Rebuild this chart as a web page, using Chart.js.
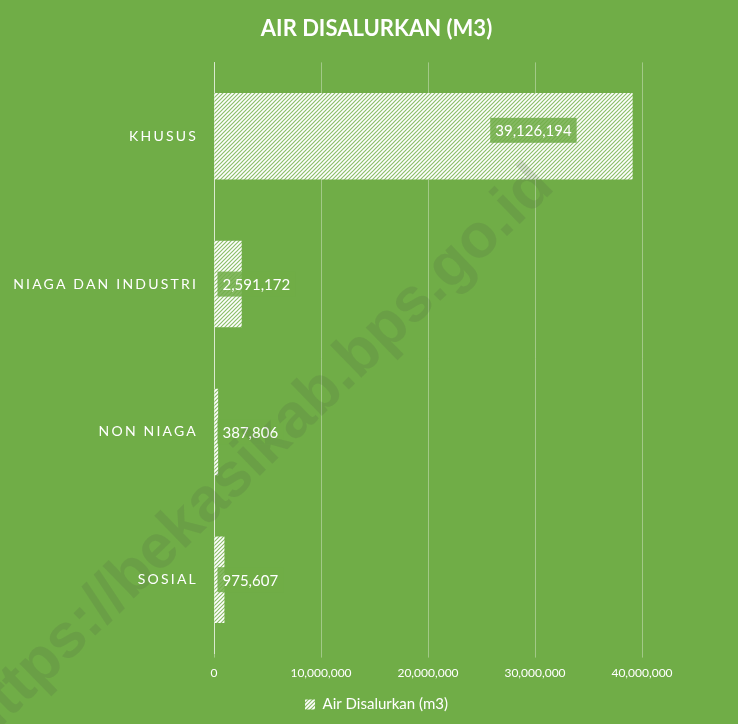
<!DOCTYPE html>
<html>
<head>
<meta charset="utf-8">
<script src="https://cdn.jsdelivr.net/npm/chart.js@4.4.1/dist/chart.umd.min.js"></script>
<style>
  html, body { margin: 0; padding: 0; background: #70AD47; }
  #wrap { width: 738px; height: 724px; position: relative; }
</style>
</head>
<body>
<div id="wrap"><canvas id="c" width="738" height="724"></canvas></div>
<script>
const chartTitle = 'AIR DISALURKAN (M3)';
const categories = ['KHUSUS', 'NIAGA DAN INDUSTRI', 'NON NIAGA', 'SOSIAL'];
const seriesName = 'Air Disalurkan (m3)';
const airDisalurkan = [39126194, 2591172, 387806, 975607];
const xTicks = [0, 10000000, 20000000, 30000000, 40000000];
const watermark = 'https://bekasikab.bps.go.id';

const FONT = 'Lato, "Open Sans", sans-serif';

function makePattern() {
  const p = document.createElement('canvas');
  p.width = 4; p.height = 4;
  const g = p.getContext('2d');
  g.fillStyle = '#ffffff';
  g.fillRect(0, 0, 4, 4);
  g.strokeStyle = '#8cbf6a';
  g.lineWidth = 1.2;
  g.beginPath();
  g.moveTo(-1, 5); g.lineTo(5, -1);
  g.moveTo(-1, 1); g.lineTo(1, -1);
  g.moveTo(3, 5); g.lineTo(5, 3);
  g.stroke();
  return document.getElementById('c').getContext('2d').createPattern(p, 'repeat');
}
const hatch = makePattern();

const fmt = v => v.toLocaleString('en-US');

const watermarkPlugin = {
  id: 'watermark',
  afterDraw(chart) {
    const ctx = chart.ctx;
    ctx.save();
    ctx.translate(-8, 712);
    ctx.rotate(-Math.PI / 4 + 0.015);
    ctx.font = 'bold 62px "Liberation Sans", Arial, sans-serif';
    ctx.fillStyle = 'rgba(70,70,70,0.13)';
    ctx.textBaseline = 'middle';
    ctx.textAlign = 'left';
    ctx.fillText(watermark, -30, 0);
    ctx.restore();
  }
};

const catLabelPlugin = {
  id: 'catLabels',
  afterDraw(chart) {
    const ctx = chart.ctx;
    const ys = chart.scales.y;
    ctx.save();
    ctx.font = '14px ' + FONT;
    ctx.fillStyle = '#ffffff';
    ctx.textAlign = 'right';
    ctx.textBaseline = 'middle';
    try { ctx.letterSpacing = '2.2px'; } catch (e) {}
    categories.forEach((c, i) => {
      ctx.fillText(c, chart.chartArea.left - 16, ys.getPixelForValue(i));
    });
    ctx.restore();
  }
};

const dataLabelPlugin = {
  id: 'dataLabels',
  afterDatasetsDraw(chart) {
    const ctx = chart.ctx;
    const meta = chart.getDatasetMeta(0);
    ctx.save();
    ctx.font = '15px ' + FONT;
    ctx.textBaseline = 'middle';
    ctx.textAlign = 'left';
    meta.data.forEach((bar, i) => {
      const txt = fmt(airDisalurkan[i]);
      const w = ctx.measureText(txt).width;
      const boxW = w + 10, boxH = 25;
      const base = bar.base;
      let left = bar.x - 56 - boxW;
      let cy = bar.y - 6;
      if (left < base + 3) { left = base + 3; cy = bar.y; }
      ctx.fillStyle = 'rgba(112,173,71,0.85)';
      ctx.fillRect(left, cy - boxH / 2, boxW, boxH);
      ctx.fillStyle = '#ffffff';
      ctx.fillText(txt, left + 5, cy + 1);
    });
    ctx.restore();
  }
};

new Chart(document.getElementById('c'), {
  type: 'bar',
  data: {
    labels: categories,
    datasets: [{
      label: seriesName,
      data: airDisalurkan,
      backgroundColor: hatch,
      borderWidth: 0,
      categoryPercentage: 0.585,
      barPercentage: 1.0
    }]
  },
  options: {
    indexAxis: 'y',
    responsive: false,
    animation: false,
    devicePixelRatio: 1,
    layout: { padding: { left: 15, right: 0, top: 10, bottom: 2 } },
    scales: {
      x: {
        min: 0, max: 40000000,
        afterBuildTicks(scale) { scale.ticks = xTicks.map(v => ({ value: v })); },
        ticks: {
          color: '#ffffff',
          font: { family: FONT, size: 12 },
          padding: 8,
          callback: v => fmt(v),
          maxRotation: 0
        },
        grid: {
          color: 'rgba(255,255,255,0.35)',
          lineWidth: 1,
          drawTicks: true,
          tickLength: 4
        },
        border: { display: false }
      },
      y: {
        ticks: { display: false },
        grid: { display: false },
        border: { display: true, color: 'rgba(255,255,255,0.6)' },
        afterFit(scale) { scale.width = 199; }
      },
      yRight: {
        type: 'category',
        position: 'right',
        labels: categories,
        ticks: { display: false },
        grid: { display: false, drawOnChartArea: false },
        border: { display: false },
        afterFit(scale) { scale.width = 96; }
      }
    },
    plugins: {
      title: {
        display: true,
        text: chartTitle,
        color: '#ffffff',
        font: { family: FONT, size: 22, weight: 'bold' },
        padding: { top: 6, bottom: 20 }
      },
      legend: {
        position: 'bottom',
        labels: {
          color: '#ffffff',
          font: { family: FONT, size: 15 },
          boxWidth: 10,
          boxHeight: 10,
          padding: 9
        }
      },
      tooltip: { enabled: false }
    }
  },
  plugins: [watermarkPlugin, catLabelPlugin, dataLabelPlugin]
});
</script>
</body>
</html>
